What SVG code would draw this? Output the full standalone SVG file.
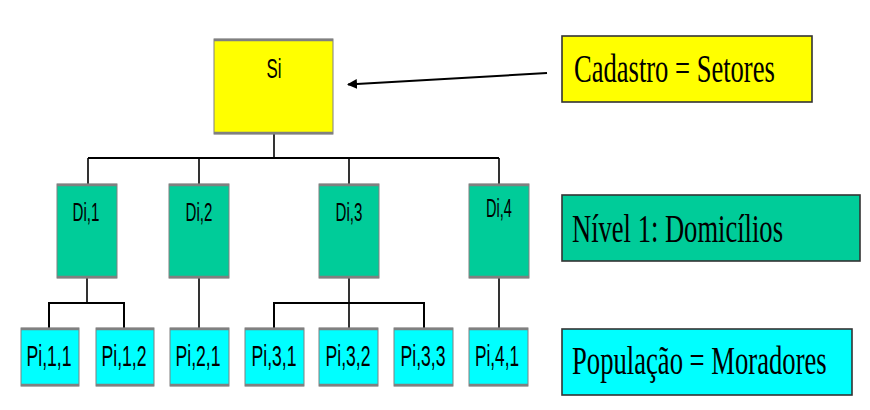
<svg xmlns="http://www.w3.org/2000/svg" width="870" height="410" viewBox="0 0 870 410">
<defs>
<style>
.bg{fill:#ffffff}
.node{stroke:#808080;stroke-width:1}
.edge{stroke:#808080;stroke-width:2.6;fill:none}
.y{fill:#ffff00}
.g{fill:#00cc99}
.c{fill:#00ffff}
.t{font-family:"Liberation Sans",Arial,sans-serif;fill:#000;text-anchor:middle}
.ts{font-size:28px}
.td{font-size:25.6px}
.tp{font-size:30px}
.lab{stroke:#333333;stroke-width:1.6}
.lt{font-family:"Liberation Serif","Times New Roman",serif;fill:#000;font-size:41px}
.con{stroke:#000;fill:none;stroke-width:2}
.conv{stroke:#000;fill:none;stroke-width:1.6}
</style>
<marker id="ah" viewBox="0 0 10 10" refX="9" refY="5" markerWidth="5" markerHeight="5" orient="auto" markerUnits="strokeWidth">
<path d="M0,0 L10,5 L0,10 z" fill="#000"/>
</marker>
</defs>
<rect class="bg" x="0" y="0" width="870" height="410"/>
<g id="connectors">
<path class="conv" d="M274 134 V158"/>
<path class="con" d="M88 158 H499"/>
<path class="conv" d="M88 158 V184 M199 158 V184 M349 158 V184 M499 158 V184"/>
<path class="conv" d="M87 278 V303 M199 278 V328 M349 278 V328 M499 278 V328"/>
<path class="con" d="M49 328 V303 H124 V328"/>
<path class="con" d="M274 328 V303 H424 V328"/>
<path class="con" d="M547 73 L348 84.5" marker-end="url(#ah)"/>
</g>
<g id="n-si">
<rect class="node y" x="214" y="39" width="119" height="95"/>
<path class="edge" d="M214 40 H333 M214 133 H333"/>
<text class="t ts" transform="translate(274 78) scale(0.6 1)">Si</text>
</g>
<g id="n-d1">
<rect class="node g" x="57" y="184" width="60" height="94"/>
<path class="edge" d="M57 185 H117 M57 277 H117"/>
<text class="t td" transform="translate(86 221) scale(0.59 1)">Di,1</text>
</g>
<g id="n-d2">
<rect class="node g" x="169" y="184" width="60" height="94"/>
<path class="edge" d="M169 185 H229 M169 277 H229"/>
<text class="t td" transform="translate(199 221) scale(0.59 1)">Di,2</text>
</g>
<g id="n-d3">
<rect class="node g" x="319" y="184" width="60" height="94"/>
<path class="edge" d="M319 185 H379 M319 277 H379"/>
<text class="t td" transform="translate(349 221) scale(0.59 1)">Di,3</text>
</g>
<g id="n-d4">
<rect class="node g" x="469" y="184" width="60" height="94"/>
<path class="edge" d="M469 185 H529 M469 277 H529"/>
<text class="t td" transform="translate(499 217) scale(0.57 1)">Di,4</text>
</g>
<g id="n-p11">
<rect class="node c" x="21" y="328" width="58" height="58"/>
<path class="edge" d="M21 329 H79 M21 385 H79"/>
<text class="t tp" transform="translate(49 365.5) scale(0.587 1)">Pi,1,1</text>
</g>
<g id="n-p12">
<rect class="node c" x="96" y="328" width="58" height="58"/>
<path class="edge" d="M96 329 H154 M96 385 H154"/>
<text class="t tp" transform="translate(124 365.5) scale(0.587 1)">Pi,1,2</text>
</g>
<g id="n-p21">
<rect class="node c" x="170" y="328" width="59" height="58"/>
<path class="edge" d="M170 329 H229 M170 385 H229"/>
<text class="t tp" transform="translate(198 365.5) scale(0.587 1)">Pi,2,1</text>
</g>
<g id="n-p31">
<rect class="node c" x="245" y="328" width="59" height="58"/>
<path class="edge" d="M245 329 H304 M245 385 H304"/>
<text class="t tp" transform="translate(274 365.5) scale(0.587 1)">Pi,3,1</text>
</g>
<g id="n-p32">
<rect class="node c" x="319" y="328" width="59" height="58"/>
<path class="edge" d="M319 329 H378 M319 385 H378"/>
<text class="t tp" transform="translate(348 365.5) scale(0.587 1)">Pi,3,2</text>
</g>
<g id="n-p33">
<rect class="node c" x="394" y="328" width="59" height="58"/>
<path class="edge" d="M394 329 H453 M394 385 H453"/>
<text class="t tp" transform="translate(423 365.5) scale(0.587 1)">Pi,3,3</text>
</g>
<g id="n-p41">
<rect class="node c" x="469" y="328" width="59" height="58"/>
<path class="edge" d="M469 329 H528 M469 385 H528"/>
<text class="t tp" transform="translate(497 365.5) scale(0.575 1)">Pi,4,1</text>
</g>
<g id="l-cadastro">
<rect class="lab y" x="562" y="36" width="250" height="66"/>
<text class="lt" transform="translate(574 82) scale(0.648 1)">Cadastro = Setores</text>
</g>
<g id="l-nivel">
<rect class="lab g" x="562" y="195" width="298" height="66"/>
<text class="lt" transform="translate(572 242) scale(0.648 1)">Nível 1: Domicílios</text>
</g>
<g id="l-populacao">
<rect class="lab c" x="562" y="329" width="290" height="66"/>
<text class="lt" transform="translate(572 374) scale(0.65 1)">População = Moradores</text>
</g>
</svg>
